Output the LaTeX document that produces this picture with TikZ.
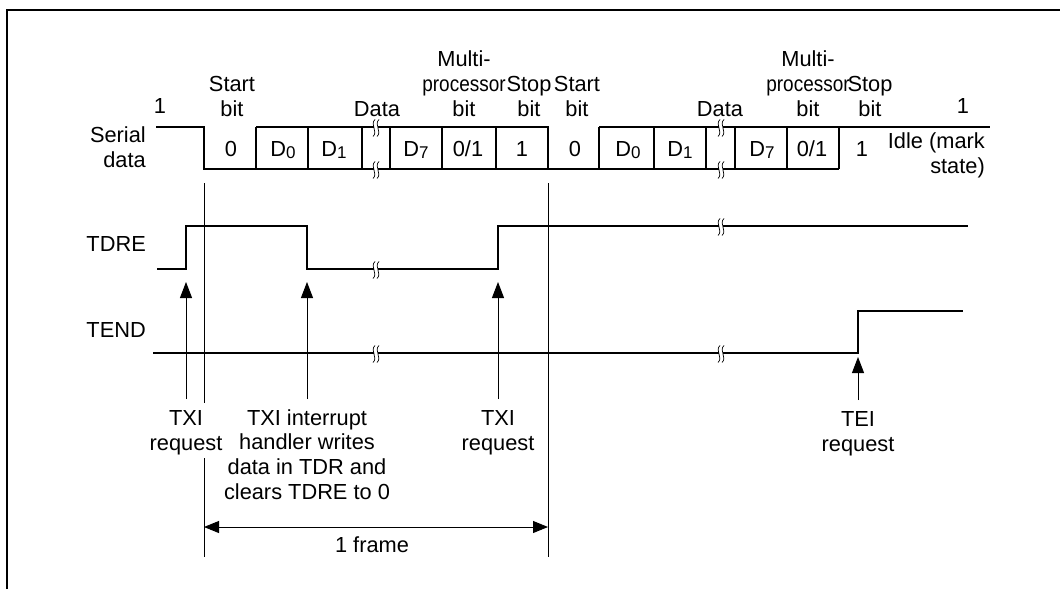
\documentclass[tikz,border=0pt]{standalone}
\usepackage{fontspec}
\usepackage{graphicx}
\setmainfont{Liberation Sans}
\usetikzlibrary{arrows.meta}
\newcommand\subdig[1]{\raisebox{-2.5pt}{\fontsize{17}{17}\selectfont #1}}
\newcommand\procword{\scalebox{0.87}[1]{processor}}
\newcommand\brkmark[2]{%
  \fill[white] (#1-2.2,#2-5) rectangle (#1+2.2,#2+5);
  \draw[line width=0.7pt] (#1-1,#2-8.5) .. controls (#1-6.5,#2-3.5) and (#1+2.5,#2+3.5) .. (#1-3,#2+8.5);
  \draw[line width=0.7pt] (#1+3,#2-8.5) .. controls (#1-2.5,#2-3.5) and (#1+6.5,#2+3.5) .. (#1+1,#2+8.5);
}
\tikzset{
  txt/.style={font=\fontsize{21.8}{24.6}\selectfont, inner sep=0pt, align=center},
  rtxt/.style={font=\fontsize{21.8}{24.6}\selectfont, inner sep=0pt, align=right},
  wave/.style={line width=1.2pt},
  marker/.style={line width=0.9pt},
  uparr/.style={-{Triangle[length=16pt,width=12pt]}, line width=0.9pt},
  dimarr/.style={{Triangle[length=15pt,width=12pt]}-{Triangle[length=15pt,width=12pt]}, line width=0.9pt}
}
\begin{document}
\begin{tikzpicture}[x=1pt,y=-1pt]
\useasboundingbox (0,0) rectangle (1060,589);
% outer frame (top and left edges)
\draw[line width=1.6pt] (7,589) -- (7,10) -- (1060,10);

% ---- Serial data ----
\draw[wave] (156,127) -- (204,127) -- (204,169) -- (548,169);
\draw[wave] (256,127) -- (548,127) -- (548,169) -- (839,169);
\draw[wave] (599,127) -- (990,127);
\foreach \x in {256,308,362,390,442,496,599,654,706,735,787,839}
  \draw[wave] (\x,127) -- (\x,169);
\brkmark{376}{128}
\brkmark{376}{170}
\brkmark{721}{128}
\brkmark{721}{170}

% labels above serial data (base = baseline of last line)
\node[txt, anchor=base] (one1) at (160,113) {1};
\node[txt, anchor=base] (start1) at (232,116) {Start\\bit};
\node[txt, anchor=base] (data1) at (377,116) {Data};
\node[txt, anchor=base] (mp1) at (464,116) {Multi-\\\procword\\bit};
\node[txt, anchor=base] (stop1) at (529,116) {Stop\\bit};
\node[txt, anchor=base] (start2) at (577,116) {Start\\bit};
\node[txt, anchor=base] (data2) at (720,116) {Data};
\node[txt, anchor=base] (mp2) at (808,116) {Multi-\\\procword\\bit};
\node[txt, anchor=base] (stop2) at (870,116) {Stop\\bit};
\node[txt, anchor=base] (one2) at (963,113) {1};
\node[rtxt, anchor=base east] (idle) at (985,173) {Idle (mark\\state)};
\node[rtxt, anchor=base east] (serial) at (146,167) {Serial\\data};

% cell contents
\node[txt, anchor=base] (c10) at (231,156) {0};
\node[txt, anchor=base] (c11) at (283,156) {D\subdig{0}};
\node[txt, anchor=base] (c12) at (334,156) {D\subdig{1}};
\node[txt, anchor=base] (c13) at (416,156) {D\subdig{7}};
\node[txt, anchor=base] (c14) at (468,156) {0/1};
\node[txt, anchor=base] (c15) at (522,156) {1};
\node[txt, anchor=base] (c20) at (575,156) {0};
\node[txt, anchor=base] (c21) at (628,156) {D\subdig{0}};
\node[txt, anchor=base] (c22) at (680,156) {D\subdig{1}};
\node[txt, anchor=base] (c23) at (762,156) {D\subdig{7}};
\node[txt, anchor=base] (c24) at (812,156) {0/1};
\node[txt, anchor=base] (c25) at (862,156) {1};

% ---- TDRE ----
\node[rtxt, anchor=base east] (tdre) at (146,251) {TDRE};
\draw[wave] (157,269) -- (186,269) -- (186,226) -- (307,226) -- (307,269) -- (498,269) -- (498,226) -- (968,226);
\brkmark{376}{270}
\brkmark{721}{227}

% ---- TEND ----
\node[rtxt, anchor=base east] (tend) at (146,337) {TEND};
\draw[wave] (153,353) -- (858,353) -- (858,311) -- (963,311);
\brkmark{376}{354}
\brkmark{721}{354}

% ---- frame marker lines ----
\coordinate (m1a) at (204,183);
\coordinate (m1b) at (204,403);
\coordinate (m1c) at (204,458);
\coordinate (m1d) at (204,557);
\coordinate (m2a) at (548,183);
\coordinate (m2b) at (548,557);
\draw[marker] (m1a) -- (m1b);
\draw[marker] (m1c) -- (m1d);
\draw[marker] (m2a) -- (m2b);

% ---- request arrows ----
\coordinate (r1s) at (186,399); \coordinate (r1e) at (186,282);
\coordinate (r2s) at (307,399); \coordinate (r2e) at (307,282);
\coordinate (r3s) at (498,399); \coordinate (r3e) at (498,282);
\coordinate (r4s) at (858,400); \coordinate (r4e) at (858,357);
\draw[uparr] (r1s) -- (r1e);
\draw[uparr] (r2s) -- (r2e);
\draw[uparr] (r3s) -- (r3e);
\draw[uparr] (r4s) -- (r4e);

% bottom labels (base = baseline of last line)
\node[txt, anchor=base] (txi1) at (186,450) {TXI\\request};
\node[txt, anchor=base] (handler) at (307,499) {TXI interrupt\\handler writes\\data in TDR and\\clears TDRE to 0};
\node[txt, anchor=base] (txi2) at (498,450) {TXI\\request};
\node[txt, anchor=base] (tei) at (858,451) {TEI\\request};

% 1 frame
\coordinate (fa) at (204,527);
\coordinate (fb) at (548,527);
\draw[dimarr] (fa) -- (fb);
\node[txt, anchor=base] (frame) at (372,552) {1 frame};
\end{tikzpicture}
\end{document}
